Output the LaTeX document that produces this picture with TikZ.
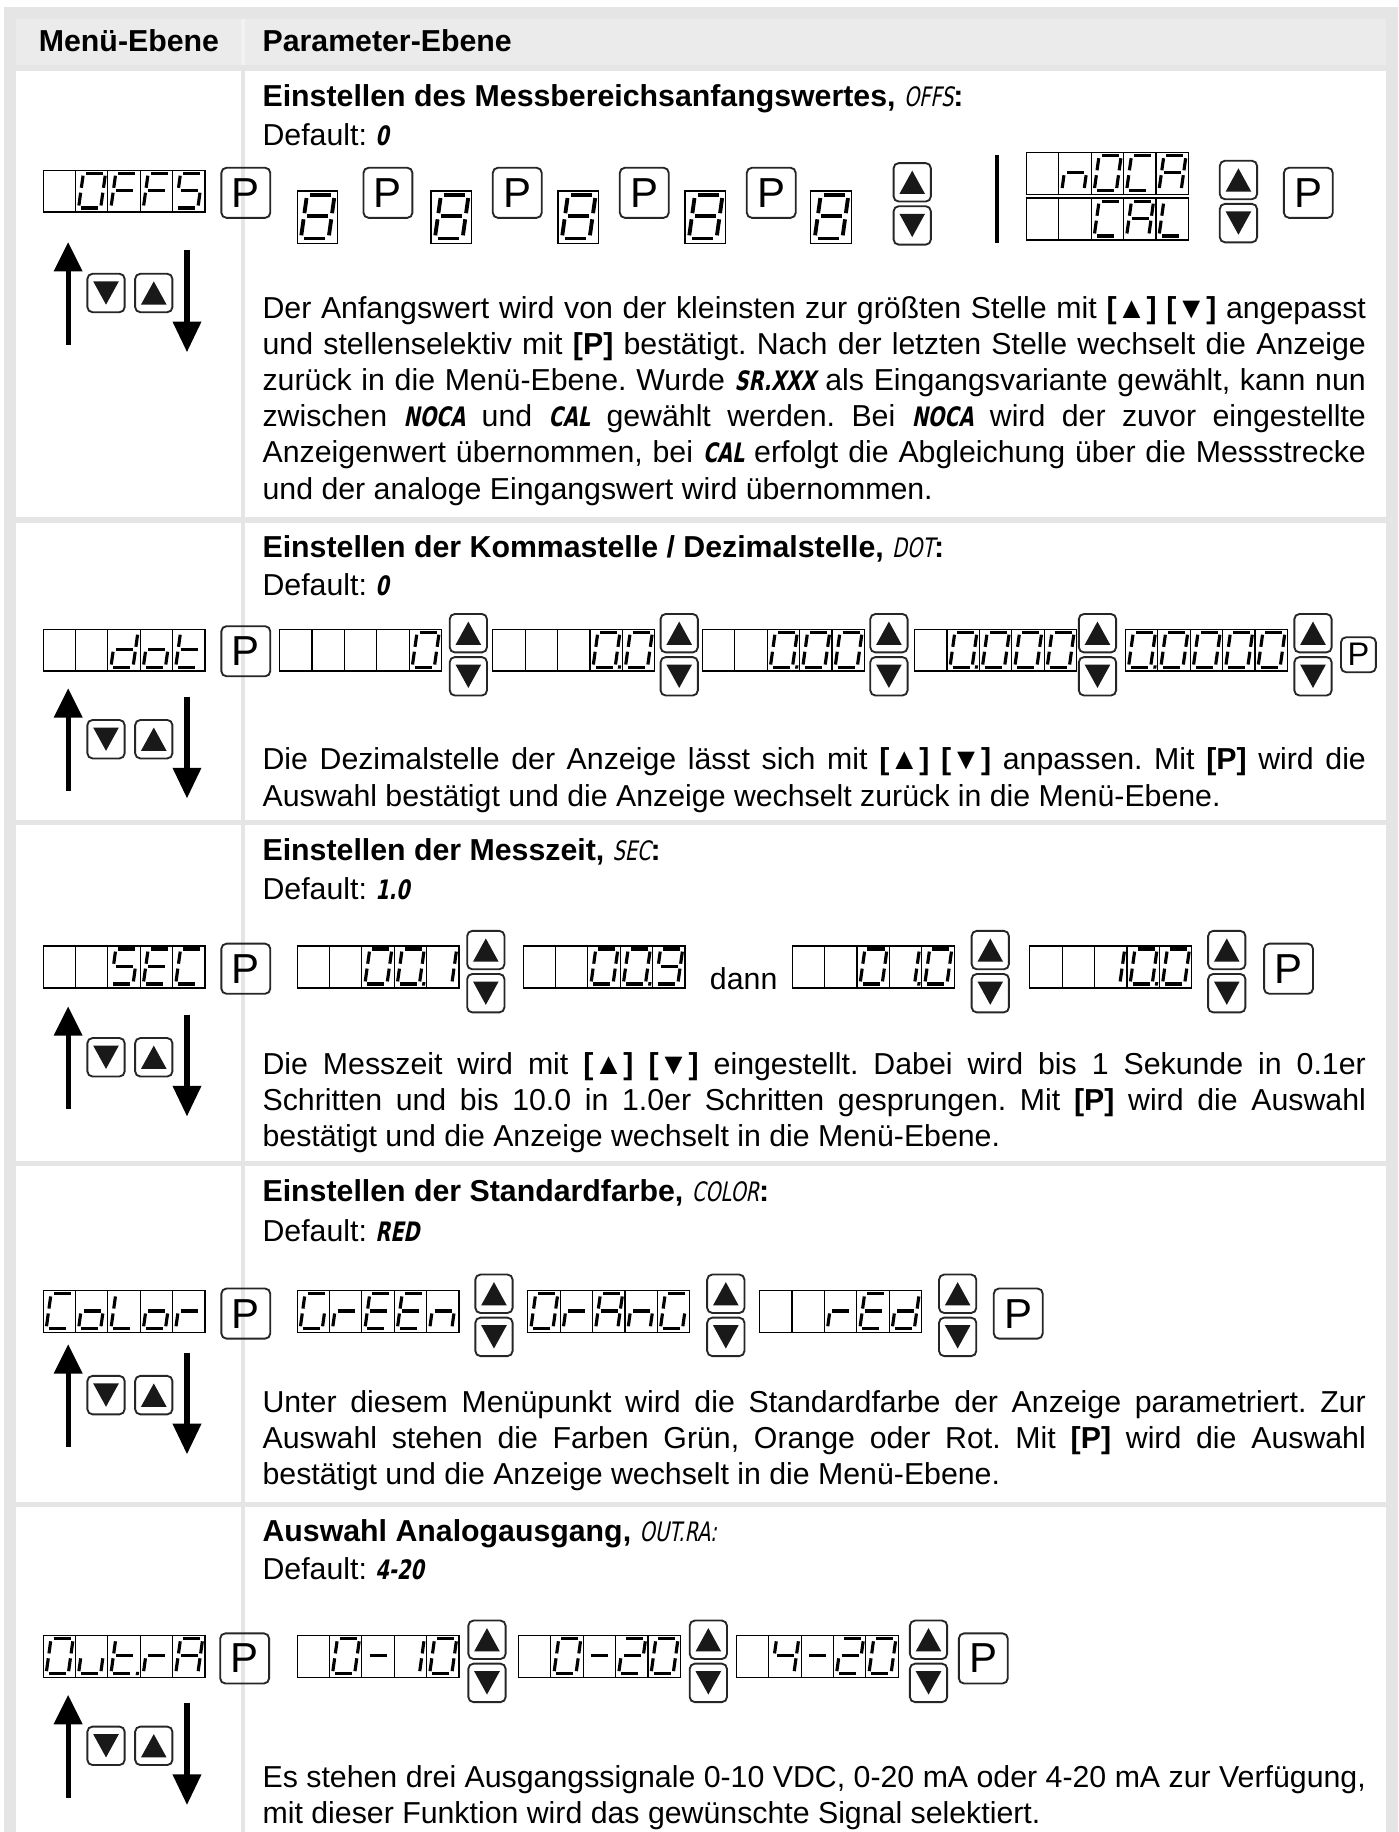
\documentclass[tikz,border=0pt]{standalone}
\usepackage{fontspec}
\setmainfont{Liberation Sans}
\newfontfamily\lcdf{DejaVu Sans}[FakeStretch=0.72,FakeSlant=0.2]
\newcommand\lcd[1]{{\lcdf\fontsize{11.5pt}{15.5pt}\selectfont #1}}
\newcommand\lcdb[1]{{\lcdf\bfseries\fontsize{11.5pt}{15.5pt}\selectfont #1}}
\newcommand\bodyfont{\fontsize{13pt}{15.5pt}\selectfont\frenchspacing}
% seven segment pieces (glyph frame: X right 0..19, Y up 0..30)
\def\sgA{\draw[sg] (2.2,30)--(16.8,30);}
\def\sgB{\draw[sg] (19,27.8)--(19,17.4);}
\def\sgC{\draw[sg] (19,13.2)--(19,2.2);}
\def\sgD{\draw[sg] (2.2,0)--(16.8,0);}
\def\sgE{\draw[sg] (0,2.2)--(0,13.2);}
\def\sgF{\draw[sg] (0,17.4)--(0,27.8);}
\def\sgG{\draw[sg] (2.2,15.3)--(16.8,15.3);}
\def\lcP{\fill (21.4,-1.3) rectangle (24,1.5);}
\def\lcZero{\sgA\sgB\sgC\sgD\sgE\sgF}
\def\lcOne{\sgB\sgC}
\def\lcTwo{\sgA\sgB\sgG\sgE\sgD}
\def\lcFour{\sgF\sgG\sgB\sgC}
\def\lcNine{\sgA\sgB\sgC\sgD\sgF\sgG}
\def\lcEight{\sgA\sgB\sgC\sgD\sgE\sgF\sgG}
\def\lcMinus{\sgG}
\def\lcA{\sgA\sgB\sgC\sgE\sgF\sgG}
\def\lcC{\sgA\sgD\sgE\sgF}
\def\lcE{\sgA\sgD\sgE\sgF\sgG}
\def\lcF{\sgA\sgE\sgF\sgG}
\def\lcG{\sgA\sgC\sgD\sgE\sgF}
\def\lcL{\sgD\sgE\sgF}
\def\lcS{\sgA\sgC\sgD\sgF\sgG}
\def\lcdd{\sgB\sgC\sgD\sgE\sgG}
\def\lcn{\sgC\sgE\sgG}
\def\lco{\sgC\sgD\sgE\sgG}
\def\lcr{\sgE\sgG}
\def\lct{\sgD\sgE\sgF\sgG}
\def\lcu{\sgC\sgD\sgE}
\newcommand\glyphat[3]{\begin{scope}[shift={({#1},{#2})},shift={(2.6,32.6)},yscale=-1,xslant=-0.14]#3\end{scope}}
\newcommand\disp[7]{%
  \draw[dispbox] (#1,#2) rectangle ++(139,36);
  \foreach \kk in {1,2,3,4} {\draw[dispbox] ({#1+27.8*\kk},#2) -- ++(0,36);}
  \glyphat{#1}{#2}{#3}\glyphat{#1+27.8}{#2}{#4}\glyphat{#1+55.6}{#2}{#5}%
  \glyphat{#1+83.4}{#2}{#6}\glyphat{#1+111.2}{#2}{#7}}
\newcommand\bigeight[2]{%
  \draw[dispbox] (#1,#2) rectangle ++(34.75,45);
  \begin{scope}[shift={(#1,#2)},scale=1.25,shift={(2.6,32.6)},yscale=-1,xslant=-0.14,sg/.append style={line width=1.65pt}]\lcEight\end{scope}}
\newcommand\pbtn[3]{%
  \draw[btn] (#2,#3) rectangle ++(42,43);
  \node[ptxt] (#1) at ({#2+21},{#3+21.5}) {P};}
\newcommand\upbtn[2]{%
  \draw[btn] (#1,#2) rectangle ++(32,33);
  \fill[tri] ({#1+5},{#2+26.5}) -- ({#1+27},{#2+26.5}) -- ({#1+16},{#2+6.5}) -- cycle;}
\newcommand\dnbtn[2]{%
  \draw[btn] (#1,#2) rectangle ++(32,33);
  \fill[tri] ({#1+5},{#2+6.5}) -- ({#1+27},{#2+6.5}) -- ({#1+16},{#2+26.5}) -- cycle;}
\newcommand\updown[2]{\upbtn{#1}{#2}\dnbtn{#1}{#2+37}}
\newcommand\leftarr[1]{%
  \draw[line width=2.2pt] (58.5,{#1+20}) -- (58.5,{#1+88});
  \fill (46,{#1+25}) -- (71,{#1+25}) -- (58.5,#1) -- cycle;
  \draw[line width=2.2pt] (160.5,{#1+7}) -- (160.5,{#1+72});
  \fill (148,{#1+68}) -- (173,{#1+68}) -- (160.5,{#1+94}) -- cycle;
  \dnbtn{75}{#1+27}\upbtn{116}{#1+27}}
\tikzset{
  sg/.style={line width=1.35pt,line cap=butt},
  dispbox/.style={line width=0.5pt,draw=black},
  btn/.style={draw=black!85,line width=0.8pt,rounded corners=2.2pt},
  tri/.style={fill=black!90},
  txt/.style={anchor=base west,inner sep=0pt,font=\bodyfont},
  para/.style={anchor=north west,inner sep=0pt,text width=473.5pt,align=justify,font=\bodyfont},
  ptxt/.style={inner sep=0pt,font=\fontsize{18pt}{18pt}\selectfont},
  ptxts/.style={inner sep=0pt,font=\fontsize{14pt}{14pt}\selectfont},
}
\newcommand\parstart{\hyphenpenalty=10000\exhyphenpenalty=10000\rule{0pt}{10pt}}
\begin{document}
\begin{tikzpicture}[x=0.5pt,y=-0.5pt]
\useasboundingbox (0,0) rectangle (1200,1572.5);
% table background
\fill[black!10] (3.8,6.3) rectangle (1200,1572.5);
\fill[black!5] (207,16.6) rectangle (210.7,55.8);
\fill[black!8] (13.4,16.6) rectangle (207,55.8);
\fill[black!8] (210.7,16.6) rectangle (1189.7,55.8);
\foreach \ta/\tb in {60.7/444,448.5/704,708.5/996.5,1001/1288.8,1293.3/1572.5}{
  \fill[white] (13.4,\ta) rectangle (207,\tb);
  \fill[white] (210.7,\ta) rectangle (1189.7,\tb);}
\node[txt] (h1) at (33,44.5) {\textbf{Menü-Ebene}};
\node[txt] (h2) at (225,44.5) {\textbf{Parameter-Ebene}};
% ---------------- row 1: OFFS
\node[txt] (t1) at (225,91) {\textbf{Einstellen des Messbereichsanfangswertes, }\lcd{OFFS}\textbf{:}};
\node[txt] (d1) at (225,125) {Default: \lcdb{0}};
\disp{37}{146}{}{\lcZero}{\lcF}{\lcF}{\lcS}
\pbtn{p10}{190}{144}
\bigeight{255}{164}
\pbtn{p11}{312}{144}
\bigeight{370}{164}
\pbtn{p12}{423}{144}
\bigeight{479}{164}
\pbtn{p13}{532}{144}
\bigeight{588}{164}
\pbtn{p14}{641}{144}
\bigeight{696}{164}
\updown{767}{140}
\draw[line width=1.75pt] (855.5,133) -- (855.5,209);
\disp{881}{131}{}{\lcn}{\lcZero}{\lcC}{\lcA}
\disp{881}{170}{}{}{\lcC}{\lcA}{\lcL}
\updown{1047}{138}
\pbtn{p15}{1102}{144}
\leftarr{208}
\node[para] (x1) at (225,253) {\parstart Der Anfangswert wird von der kleinsten zur größten Stelle mit \textbf{[▲] [▼]} angepasst\linebreak
und stellenselektiv mit \textbf{[P]} bestätigt. Nach der letzten Stelle wechselt die Anzeige\linebreak
zurück in die Menü-Ebene. Wurde \lcdb{SR.XXX} als Eingangsvariante gewählt, kann nun\linebreak
zwischen \lcdb{NOCA} und \lcdb{CAL} gewählt werden. Bei \lcdb{NOCA} wird der zuvor eingestellte\linebreak
Anzeigenwert übernommen, bei \lcdb{CAL} erfolgt die Abgleichung über die Messstrecke\linebreak
und der analoge Eingangswert wird übernommen.};
% ---------------- row 2: dot
\node[txt] (t2) at (225,478.5) {\textbf{Einstellen der Kommastelle / Dezimalstelle, }\lcd{DOT}\textbf{:}};
\node[txt] (d2) at (225,511.5) {Default: \lcdb{0}};
\disp{37}{540}{}{}{\lcdd}{\lco}{\lct}
\pbtn{p20}{190}{537.5}
\disp{240}{540}{}{}{}{}{\lcZero}
\updown{386}{527}
\disp{423}{540}{}{}{}{\lcZero\lcP}{\lcZero}
\updown{567}{527}
\disp{603}{540}{}{}{\lcZero\lcP}{\lcZero}{\lcZero}
\updown{747}{527}
\disp{785}{540}{}{\lcZero\lcP}{\lcZero}{\lcZero}{\lcZero}
\updown{926}{527}
\disp{966}{540}{\lcZero\lcP}{\lcZero}{\lcZero}{\lcZero}{\lcZero}
\updown{1111}{527}
\draw[btn] (1151,547) rectangle ++(30,30);
\node[ptxts] (p21) at (1166,562) {P};
\leftarr{591}
\node[para] (x2) at (225,640.5) {\parstart Die Dezimalstelle der Anzeige lässt sich mit \textbf{[▲] [▼]} anpassen. Mit \textbf{[P]} wird die\linebreak
Auswahl bestätigt und die Anzeige wechselt zurück in die Menü-Ebene.};
% ---------------- row 3: SEC
\node[txt] (t3) at (225,738.5) {\textbf{Einstellen der Messzeit, }\lcd{SEC}\textbf{:}};
\node[txt] (d3) at (225,772.5) {Default: \lcdb{1.0}};
\disp{37}{812}{}{}{\lcS}{\lcE}{\lcC}
\pbtn{p30}{190}{810}
\disp{255}{812}{}{}{\lcZero}{\lcZero\lcP}{\lcOne}
\updown{401}{799}
\disp{449}{812}{}{}{\lcZero}{\lcZero\lcP}{\lcNine}
\node[txt] (dann) at (609,849) {dann};
\disp{680}{812}{}{}{\lcZero}{\lcOne\lcP}{\lcZero}
\updown{834}{799}
\disp{884}{812}{}{}{\lcOne}{\lcZero\lcP}{\lcZero}
\updown{1037}{799}
\pbtn{p31}{1085}{810}
\leftarr{864}
\node[para] (x3) at (225,901.5) {\parstart Die Messzeit wird mit \textbf{[▲] [▼]} eingestellt. Dabei wird bis 1 Sekunde in 0.1er\linebreak
Schritten und bis 10.0 in 1.0er Schritten gesprungen. Mit \textbf{[P]} wird die Auswahl\linebreak
bestätigt und die Anzeige wechselt in die Menü-Ebene.};
% ---------------- row 4: COLOR
\node[txt] (t4) at (225,1031) {\textbf{Einstellen der Standardfarbe, }\lcd{COLOR}\textbf{:}};
\node[txt] (d4) at (225,1066) {Default: \lcdb{RED}};
\disp{37}{1108}{\lcC}{\lco}{\lcL}{\lco}{\lcr}
\pbtn{p40}{190}{1106}
\disp{255}{1108}{\lcG}{\lcr}{\lcE}{\lcE}{\lcn}
\updown{408}{1094}
\disp{453}{1108}{\lcZero}{\lcr}{\lcA}{\lcn}{\lcG}
\updown{607}{1094}
\disp{652}{1108}{}{}{\lcr}{\lcE}{\lcdd}
\updown{806}{1094}
\pbtn{p41}{853}{1106}
\leftarr{1154}
\node[para] (x4) at (225,1192) {\parstart Unter diesem Menüpunkt wird die Standardfarbe der Anzeige parametriert. Zur\linebreak
Auswahl stehen die Farben Grün, Orange oder Rot. Mit \textbf{[P]} wird die Auswahl\linebreak
bestätigt und die Anzeige wechselt in die Menü-Ebene.};
% ---------------- row 5: OUT.RA
\node[txt] (t5) at (225,1323) {\textbf{Auswahl Analogausgang, }\lcd{OUT.RA:}};
\node[txt] (d5) at (225,1356) {Default: \lcdb{4-20}};
\disp{37}{1404}{\lcZero}{\lcu}{\lct\lcP}{\lcr}{\lcA}
\pbtn{p50}{189}{1402}
\disp{255}{1404}{}{\lcZero}{\lcMinus}{\lcOne}{\lcZero}
\updown{402}{1391}
\disp{445}{1404}{}{\lcZero}{\lcMinus}{\lcTwo}{\lcZero}
\updown{592}{1391}
\disp{632}{1404}{}{\lcFour}{\lcMinus}{\lcTwo}{\lcZero}
\updown{781}{1391}
\pbtn{p51}{823}{1402}
\leftarr{1455}
\node[para] (x5) at (225,1513.5) {\parstart Es stehen drei Ausgangssignale 0-10 VDC, 0-20 mA oder 4-20 mA zur Verfügung,\linebreak
mit dieser Funktion wird das gewünschte Signal selektiert.};
\end{tikzpicture}
\end{document}
